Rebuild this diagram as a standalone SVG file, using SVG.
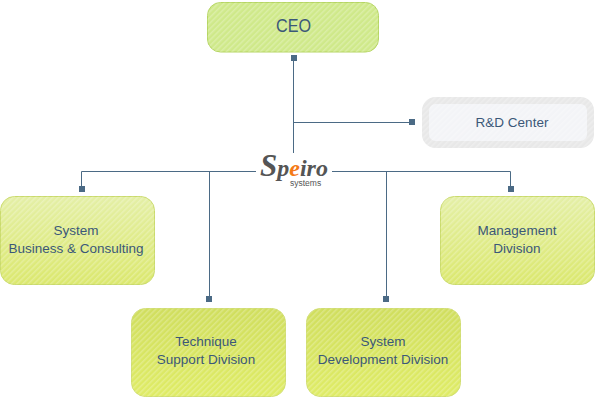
<svg xmlns="http://www.w3.org/2000/svg" width="596" height="400" viewBox="0 0 596 400">
<style>
.lbl{font-family:"Liberation Sans",Arial,sans-serif;font-size:13.500px;fill:#3b5878;text-anchor:middle}
.con{fill:none;stroke:#4b6a85;stroke-width:1}
.sq{fill:#4b6a85}
</style>
<defs>
<pattern id="h" width="4" height="4" patternUnits="userSpaceOnUse" patternTransform="rotate(-45)"><rect width="4" height="1.500" fill="#fff" fill-opacity="0.25"/></pattern>
<linearGradient id="g1" x1="0" y1="0" x2="0" y2="1"><stop offset="0" stop-color="#e4efa6"/><stop offset="1" stop-color="#dbe86e"/></linearGradient>
<linearGradient id="g2" x1="0" y1="0" x2="0" y2="1"><stop offset="0" stop-color="#d0de5e"/><stop offset="1" stop-color="#dfec66"/></linearGradient>
</defs>
<g id="connectors">
<path class="con" d="M293.500 58V153M293.500 122.500H412M81.500 189V171.500H256M332 171.500H510.500V189M209.500 171.500V298M386.500 171.500V298"/>
<rect class="sq" x="291" y="55" width="6" height="6"/>
<rect class="sq" x="409" y="119" width="6" height="6"/>
<rect class="sq" x="79" y="186" width="6" height="6"/>
<rect class="sq" x="206" y="296" width="6" height="6"/>
<rect class="sq" x="383" y="296" width="6" height="6"/>
<rect class="sq" x="508" y="186" width="6" height="6"/>
</g>
<g id="ceo">
<rect x="207.500" y="2.500" width="171" height="49.500" rx="13" fill="#cfe98a" stroke="#b5d562"/>
<rect x="207.500" y="2.500" width="171" height="49.500" rx="13" fill="url(#h)"/>
<text class="lbl" x="293.500" y="32" style="font-size:18px" textLength="35" lengthAdjust="spacingAndGlyphs">CEO</text>
</g>
<g id="rd">
<rect x="425.500" y="100.500" width="165" height="44" rx="10" fill="#f3f4f7" stroke="#e8e8e8" stroke-width="7"/>
<rect x="422" y="97" width="172" height="51" rx="13" fill="url(#h)"/>
<text class="lbl" x="512" y="127">R&amp;D Center</text>
</g>
<g id="system-business">
<rect x="0.500" y="196.500" width="154" height="88" rx="14" fill="url(#g1)" stroke="#c9da6a"/>
<rect x="0.500" y="196.500" width="154" height="88" rx="14" fill="url(#h)"/>
<text class="lbl" x="76" y="235">System</text>
<text class="lbl" x="76" y="253">Business &amp; Consulting</text>
</g>
<g id="technique">
<rect x="131.500" y="308.500" width="154" height="88" rx="14" fill="url(#g2)" stroke="#d0dd70"/>
<rect x="131.500" y="308.500" width="154" height="88" rx="14" fill="url(#h)"/>
<text class="lbl" x="206" y="346">Technique</text>
<text class="lbl" x="206" y="364">Support Division</text>
</g>
<g id="system-development">
<rect x="306.500" y="308.500" width="154" height="88" rx="14" fill="url(#g2)" stroke="#d0dd70"/>
<rect x="306.500" y="308.500" width="154" height="88" rx="14" fill="url(#h)"/>
<text class="lbl" x="383" y="346">System</text>
<text class="lbl" x="383" y="364">Development Division</text>
</g>
<g id="management">
<rect x="440.500" y="196.500" width="154" height="88" rx="14" fill="url(#g1)" stroke="#c9da6a"/>
<rect x="440.500" y="196.500" width="154" height="88" rx="14" fill="url(#h)"/>
<text class="lbl" x="517" y="235">Management</text>
<text class="lbl" x="517" y="253">Division</text>
</g>
<g id="logo">
<text x="260" y="176" font-family="'Liberation Serif',serif" font-style="italic" font-weight="bold" font-size="24" fill="#555"><tspan font-size="31">S</tspan>p<tspan fill="#f47a16">e</tspan>iro</text>
<text x="290" y="186" font-family="'Liberation Sans',sans-serif" font-size="8.500" fill="#555">systems</text>
</g>
</svg>
